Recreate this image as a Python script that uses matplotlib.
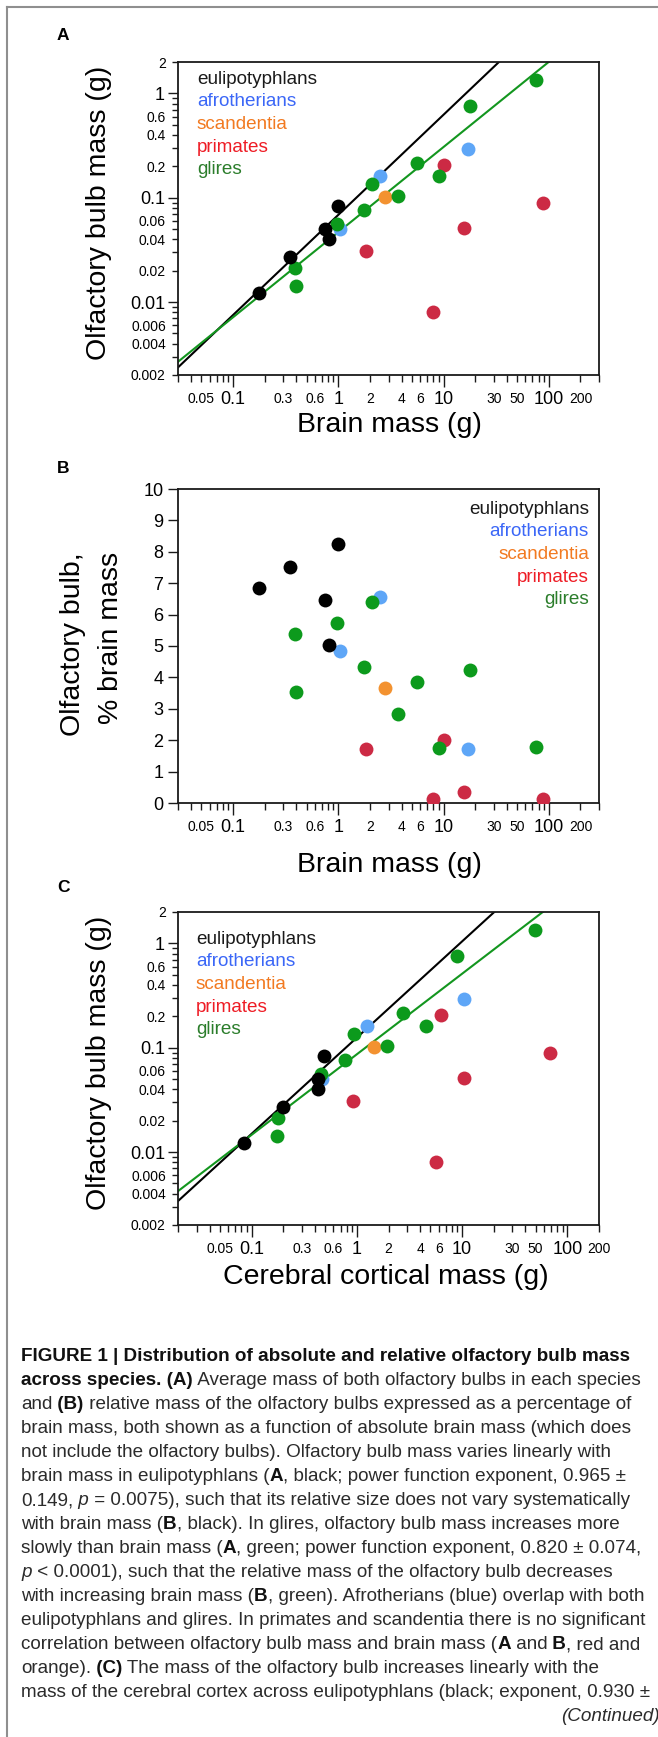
import numpy as np
import matplotlib
matplotlib.use('Agg')
import matplotlib.pyplot as plt
from matplotlib.lines import Line2D
from matplotlib.ticker import FixedLocator, FuncFormatter

W, H, DPI = 658, 1737, 100

plt.rcParams['font.family'] = ['Liberation Sans', 'DejaVu Sans']
NARROW = ['Liberation Sans Narrow', 'Liberation Sans', 'DejaVu Sans']

# groups, in legend order
groups = ['eulipotyphlans', 'afrotherians', 'scandentia', 'primates', 'glires']
dot_colors = ['#000000', '#5ea6f7', '#f39230', '#cc2a44', '#0c9a1c']
text_colors = ['#1a1a1a', '#3b67f7', '#f27a21', '#ee1c25', '#2b7d2b']
draw_order = [1, 2, 3, 4, 0]

# brain mass (g), panels A and B
brain_mass = [
    [0.175, 0.345, 0.75, 0.81, 0.99],
    [2.47, 1.03, 17.1],
    [2.75],
    [1.82, 7.9, 10.1, 15.8, 88],
    [0.39, 0.40, 0.97, 1.74, 2.08, 3.7, 5.6, 9.1, 17.8, 75],
]
# olfactory bulb mass (g), panels A and C
bulb_mass = [
    [0.0123, 0.0268, 0.050, 0.0405, 0.084],
    [0.163, 0.050, 0.294],
    [0.101],
    [0.0307, 0.0081, 0.206, 0.051, 0.090],
    [0.0213, 0.0142, 0.0565, 0.0757, 0.136, 0.1045, 0.216, 0.160, 0.757, 1.34],
]
# olfactory bulb as % of brain mass, panel B
bulb_pct = [
    [6.84, 7.52, 6.48, 5.02, 8.24],
    [6.56, 4.83, 1.72],
    [3.67],
    [1.71, 0.13, 2.0, 0.34, 0.13],
    [5.39, 3.52, 5.73, 4.34, 6.39, 2.85, 3.86, 1.74, 4.22, 1.77],
]
# cerebral cortical mass (g), panel C
cortex_mass = [
    [0.084, 0.199, 0.43, 0.425, 0.484],
    [1.26, 0.47, 10.4],
    [1.47],
    [0.92, 5.66, 6.3, 10.5, 69],
    [0.18, 0.173, 0.454, 0.78, 0.94, 1.95, 2.77, 4.5, 8.96, 48.9],
]

# power function fits y = a * x**b  -> (a, b)
fit_a_black = (0.0685, 0.96)
fit_a_green = (0.0468, 0.816)
fit_c_black = (0.125, 0.922)
fit_c_green = (0.0865, 0.772)

# tick labels
x_major = [0.1, 1, 10, 100]
x_small = [0.05, 0.3, 0.6, 2, 4, 6, 30, 50, 200]
y_major = [0.01, 0.1, 1]
y_small = [0.002, 0.004, 0.006, 0.02, 0.04, 0.06, 0.2, 0.4, 0.6, 2]

# caption, one list of (text, style) per printed line
caption = [
    [("FIGURE 1 | Distribution of absolute and relative olfactory bulb mass", 'b')],
    [("across species. (A)", 'b'), (" Average mass of both olfactory bulbs in each species", 'n')],
    [("and", 'n'), (" (B)", 'b'), (" relative mass of the olfactory bulbs expressed as a percentage of", 'n')],
    [("brain mass, both shown as a function of absolute brain mass (which does", 'n')],
    [("not include the olfactory bulbs). Olfactory bulb mass varies linearly with", 'n')],
    [("brain mass in eulipotyphlans (", 'n'), ("A", 'b'), (", black; power function exponent, 0.965 \u00b1", 'n')],
    [("0.149,", 'n'), (" p", 'i'), (" = 0.0075), such that its relative size does not vary systematically", 'n')],
    [("with brain mass (", 'n'), ("B", 'b'), (", black). In glires, olfactory bulb mass increases more", 'n')],
    [("slowly than brain mass (", 'n'), ("A", 'b'), (", green; power function exponent, 0.820 \u00b1 0.074,", 'n')],
    [("p", 'i'), (" < 0.0001), such that the relative mass of the olfactory bulb decreases", 'n')],
    [("with increasing brain mass (", 'n'), ("B", 'b'), (", green). Afrotherians (blue) overlap with both", 'n')],
    [("eulipotyphlans and glires. In primates and scandentia there is no significant", 'n')],
    [("correlation between olfactory bulb mass and brain mass (", 'n'), ("A", 'b'), (" and", 'n'),
     (" B", 'b'), (", red and", 'n')],
    [("orange).", 'n'), (" (C)", 'b'), (" The mass of the olfactory bulb increases linearly with the", 'n')],
    [("mass of the cerebral cortex across eulipotyphlans (black; exponent, 0.930 \u00b1", 'n')],
]


def fx(x):
    return x / W


def fy(y):
    return 1 - y / H


def make_axes(top, bottom, left=178, right=599):
    ax = fig.add_axes([fx(left), fy(bottom), (right - left) / W, (bottom - top) / H])
    for s in ax.spines.values():
        s.set_linewidth(1.3)
        s.set_color('#1a1a1a')
    return ax


def minor_values(lo, hi):
    vals = []
    for e in range(-4, 4):
        for m in range(2, 10):
            v = m * 10.0 ** e
            if lo * 0.999 <= v <= hi * 1.001:
                vals.append(v)
    return vals


def small_fmt(values):
    return FuncFormatter(lambda v, p: ('%g' % v) if np.isclose(v, values, rtol=1e-6).any() else '')


def log_x(ax, lo, hi):
    ax.set_xscale('log')
    ax.set_xlim(lo, hi)
    ax.xaxis.set_major_locator(FixedLocator(x_major))
    ax.xaxis.set_minor_locator(FixedLocator(minor_values(lo, hi)))
    ax.xaxis.set_major_formatter(FuncFormatter(lambda v, p: '%g' % v))
    ax.xaxis.set_minor_formatter(small_fmt(x_small))
    ax.tick_params(axis='x', which='major', direction='out', length=8.5, width=1.0,
                   pad=3.0, labelsize=13, color='#1a1a1a')
    ax.tick_params(axis='x', which='minor', direction='out', length=5, width=1.0,
                   pad=7.5, labelsize=10, labelfontfamily=NARROW, color='#1a1a1a')


def log_y(ax, lo, hi):
    ax.set_yscale('log')
    ax.set_ylim(lo, hi)
    ax.yaxis.set_major_locator(FixedLocator(y_major))
    ax.yaxis.set_minor_locator(FixedLocator(minor_values(lo, hi)))
    ax.yaxis.set_major_formatter(FuncFormatter(lambda v, p: '%g' % v))
    ax.yaxis.set_minor_formatter(small_fmt(y_small))
    ax.tick_params(axis='y', which='major', direction='out', length=7.2, width=1.0,
                   pad=2.2, labelsize=13, color='#1a1a1a')
    ax.tick_params(axis='y', which='minor', direction='out', length=4.3, width=1.0,
                   pad=4.5, labelsize=10, labelfontfamily=NARROW, color='#1a1a1a')


def scatter_groups(ax, xs, ys):
    for i in draw_order:
        ax.scatter(xs[i], ys[i], s=100, color=dot_colors[i], linewidths=0, zorder=3)


def fit_line(ax, fit, color, lo, hi):
    a, b = fit
    xx = np.geomspace(lo, hi, 200)
    ax.plot(xx, a * xx ** b, color=color, lw=1.5, zorder=2)


def legend(x, y0, ha):
    for i, name in enumerate(groups):
        fig.text(fx(x), fy(y0 + 22.7 * i), name, fontsize=13.6, color=text_colors[i],
                 ha=ha, va='center')


fig = plt.figure(figsize=(W / DPI, H / DPI), dpi=DPI)

# frame around the figure
fig.add_artist(Line2D([fx(7), 1], [fy(7), fy(7)], color='#8f8f8f', lw=1.5))
fig.add_artist(Line2D([fx(7), fx(7)], [fy(7), 0], color='#8f8f8f', lw=1.5))

# ---- panel A ----
axA = make_axes(62, 375)
log_x(axA, 0.03, 300)
log_y(axA, 0.002, 2)
fit_line(axA, fit_a_black, '#000000', 0.03, 300)
fit_line(axA, fit_a_green, '#13961f', 0.03, 300)
scatter_groups(axA, brain_mass, bulb_mass)
legend(197, 79, 'left')
fig.text(fx(63), fy(35), 'A', fontsize=12.5, fontweight='bold', ha='center', va='center')
fig.text(fx(389), fy(425), 'Brain mass (g)', fontsize=20.5, ha='center', va='center')
fig.text(fx(99), fy(213), 'Olfactory bulb mass (g)', fontsize=20.5, rotation=90,
         ha='center', va='center')

# ---- panel B ----
axB = make_axes(489, 803)
log_x(axB, 0.03, 300)
axB.set_ylim(0, 10)
axB.yaxis.set_major_locator(FixedLocator(range(0, 11)))
axB.tick_params(axis='y', direction='out', length=7.5, width=1.0, pad=3.0,
                labelsize=13, color='#1a1a1a')
scatter_groups(axB, brain_mass, bulb_pct)
legend(589, 509, 'right')
fig.text(fx(63), fy(468), 'B', fontsize=12.5, fontweight='bold', ha='center', va='center')
fig.text(fx(389), fy(865), 'Brain mass (g)', fontsize=20.5, ha='center', va='center')
fig.text(fx(73), fy(552), 'Olfactory bulb,', fontsize=20.5, rotation=90, ha='center', va='top')
fig.text(fx(111), fy(552), '% brain mass', fontsize=20.5, rotation=90, ha='center', va='top')

# ---- panel C ----
axC = make_axes(912, 1225)
log_x(axC, 0.02, 200)
log_y(axC, 0.002, 2)
fit_line(axC, fit_c_black, '#000000', 0.02, 200)
fit_line(axC, fit_c_green, '#13961f', 0.02, 200)
scatter_groups(axC, cortex_mass, bulb_mass)
legend(196, 939, 'left')
fig.text(fx(63), fy(888), 'C', fontsize=12.5, fontweight='bold', ha='center', va='center')
fig.text(fx(386), fy(1277), 'Cerebral cortical mass (g)', fontsize=20.5, ha='center', va='center')
fig.text(fx(99), fy(1063), 'Olfactory bulb mass (g)', fontsize=20.5, rotation=90,
         ha='center', va='center')

# ---- caption ----
renderer = fig.canvas.get_renderer()
probe = fig.text(0, 0, caption[4][0][0], fontsize=12)
cap_size = 12 * 593 / probe.get_window_extent(renderer).width
probe.remove()

for k, line in enumerate(caption):
    x = 21
    y = 1361 + 24.0 * k
    for text, style in line:
        t = fig.text(fx(x), fy(y), text, fontsize=cap_size, ha='left', va='baseline',
                     fontweight='bold' if style == 'b' else 'normal',
                     fontstyle='italic' if style == 'i' else 'normal',
                     color='#111111' if style == 'b' else '#2b2b2b')
        x += t.get_window_extent(renderer).width
fig.text(fx(660), fy(1361 + 24.0 * 15), '(Continued)', fontsize=cap_size, fontstyle='italic',
         ha='right', va='baseline', color='#2b2b2b')

fig.savefig('out.png', dpi=DPI)
